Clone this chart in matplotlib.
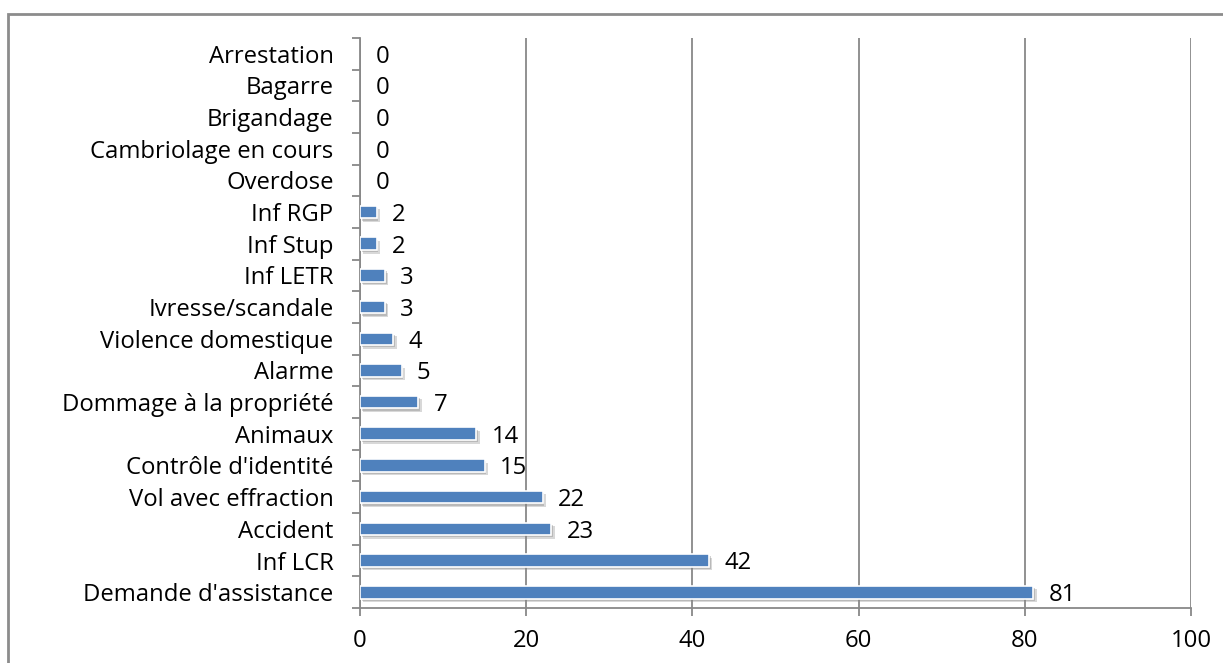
import matplotlib
matplotlib.use("Agg")
import matplotlib.pyplot as plt
import matplotlib.patheffects as pe
from matplotlib.patches import Rectangle

categories = ["Demande d'assistance", "Inf LCR", "Accident", "Vol avec effraction",
              "Contrôle d'identité", "Animaux", "Dommage à la propriété", "Alarme",
              "Violence domestique", "Ivresse/scandale", "Inf LETR", "Inf Stup",
              "Inf RGP", "Overdose", "Cambriolage en cours", "Brigandage",
              "Bagarre", "Arrestation"]
values = [81, 42, 23, 22, 15, 14, 7, 5, 4, 3, 3, 2, 2, 0, 0, 0, 0, 0]
xticks = [0, 20, 40, 60, 80, 100]

plt.rcParams['font.family'] = ['Open Sans', 'DejaVu Sans']
FS = 17.2

W, H = 1223, 663
fig = plt.figure(figsize=(W / 100, H / 100), dpi=100)
ax = fig.add_axes([360 / W, 1 - 608 / H, (1191 - 360) / W, (608 - 38) / H])

# outer border
fig.patches.append(Rectangle((8 / W, -0.1), 1.2, 1 - 14 / H + 0.1, transform=fig.transFigure,
                             fill=False, edgecolor='#8c8c8c', linewidth=2, zorder=0))

y = list(range(len(categories)))
bars = ax.barh(y, values, height=0.4, color='#4F81BD', edgecolor='none', zorder=3)
for b, v in zip(bars, values):
    if v > 0:
        b.set_edgecolor('white')
        b.set_linewidth(1.2)
        b.set_path_effects([pe.SimplePatchShadow(offset=(2.5, -2.5), shadow_rgbFace='#909090',
                                                 alpha=0.35),
                            pe.SimplePatchShadow(offset=(1.2, -1.5), shadow_rgbFace='#808080',
                                                 alpha=0.35),
                            pe.Normal()])

for yi, v in zip(y, values):
    ax.annotate(str(v), (v, yi), xytext=(11, -2), textcoords='offset points',
                va='center', ha='left', fontsize=FS, color='black')

ax.set_xlim(0, 100)
ax.set_ylim(-0.5, len(categories) - 0.5)
ax.set_xticks(xticks)
ax.set_xticklabels([str(t) for t in xticks], fontsize=FS)
ax.set_yticks([i - 0.5 for i in range(len(categories) + 1)], minor=False)
ax.set_yticklabels([])
ax.set_yticks(y, minor=True)
ax.set_yticklabels(categories, minor=True, fontsize=FS)
ax.tick_params(axis='y', which='minor', length=0, pad=19)
ax.tick_params(axis='y', which='major', length=6, color='#888888', width=1.3)
ax.tick_params(axis='x', length=6, color='#888888', width=1.3, pad=9)

ax.grid(axis='x', color='#888888', linewidth=1.3, zorder=0)
for s in ['top', 'right']:
    ax.spines[s].set_visible(False)
ax.spines['left'].set_color('#888888')
ax.spines['left'].set_linewidth(1.3)
ax.spines['bottom'].set_color('#888888')
ax.spines['bottom'].set_linewidth(1.3)

fig.savefig('out.png', dpi=100)
